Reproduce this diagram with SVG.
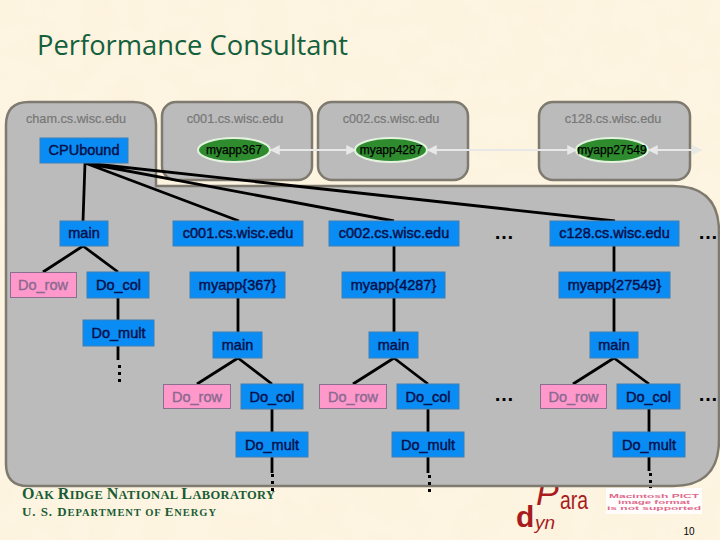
<svg xmlns="http://www.w3.org/2000/svg" width="720" height="540" viewBox="0 0 720 540">
<style>
.host{fill:#bbbbbb;stroke:#7f7a70;stroke-width:2.5}
.hl{font:12.7px "Liberation Sans",Arial,sans-serif;fill:#777;text-anchor:middle;stroke:#777;stroke-width:.2}
.n{fill:#0a8cf5;stroke:#3f80b5;stroke-width:1}
.p{fill:#ff99cc;stroke:#8b6f8f;stroke-width:1}
.t{font:14.5px "Liberation Sans",Arial,sans-serif;fill:#06104a;text-anchor:middle;stroke:#06104a;stroke-width:.45}
.tp{font:14.5px "Liberation Sans",Arial,sans-serif;fill:#8b6a90;text-anchor:middle;stroke:#8b6a90;stroke-width:.4}
.e{fill:#2e8b2e;stroke:#e3f3df;stroke-width:2}
.et{font:12px "Liberation Sans",Arial,sans-serif;fill:#000;text-anchor:middle;stroke:#000;stroke-width:.25}
.c{stroke:#000;stroke-width:2.8;fill:none;stroke-linecap:butt}
.d{stroke:#000;stroke-width:3;fill:none;stroke-dasharray:3 4}
.a{stroke:#e8e8e8;stroke-width:2;fill:none;marker-start:url(#ah);marker-end:url(#ah2)}
.dots{font:bold 20px "Liberation Sans",Arial,sans-serif;fill:#000;text-anchor:middle}
.ornl{font-family:"Liberation Serif","Times New Roman",serif;font-weight:bold;fill:#1a5c35}
.logo{font-family:"Liberation Sans",Arial,sans-serif;fill:#a81c20}
.pict{font:bold 6px "Liberation Sans",Arial,sans-serif;fill:#e0688c;text-anchor:middle}
</style>
<defs>
<filter id="paper" x="0" y="0" width="100%" height="100%">
<feTurbulence type="fractalNoise" baseFrequency="0.035" numOctaves="3" seed="4"/>
<feColorMatrix values="0 0 0 0 0.97  0 0 0 0 0.86  0 0 0 0 0.68  1.1 0 0 0 -0.3"/>
</filter>
<marker id="ah" viewBox="0 0 8 8" refX="1" refY="4" markerWidth="5" markerHeight="5" orient="auto"><path d="M8 0L0 4L8 8z" fill="#e8e8e8"/></marker>
<marker id="ah2" viewBox="0 0 8 8" refX="7" refY="4" markerWidth="5" markerHeight="5" orient="auto"><path d="M0 0L8 4L0 8z" fill="#e8e8e8"/></marker>
</defs>
<rect width="720" height="540" fill="#fdf5e2"/>
<rect width="720" height="540" filter="url(#paper)" opacity=".6"/>

<text x="37" y="55" font-family="'Open Sans','Noto Sans',sans-serif" font-size="27" fill="#14603c" textLength="311" lengthAdjust="spacingAndGlyphs">Performance Consultant</text>

<g id="logo">
<text class="logo" x="536" y="505" font-size="34" font-style="italic">P</text>
<text class="logo" x="560" y="509" font-size="26" textLength="28" lengthAdjust="spacingAndGlyphs">ara</text>
<text class="logo" x="516" y="527" font-size="30" font-weight="bold">d</text>
<text class="logo" x="535" y="529" font-size="19" font-style="italic">yn</text>
</g>

<g id="panel"><path class="host" d="M6 125Q6 102 29 102H133Q156 102 156 125V186H673Q719 186 719 232V440Q719 486 673 486H28Q6 486 6 464Z"/>
<text class="hl" x="76" y="123">cham.cs.wisc.edu</text></g>
<g id="host-c001"><rect class="host" x="162" y="102" width="150" height="78" rx="14"/><text class="hl" x="235" y="123">c001.cs.wisc.edu</text></g>
<g id="host-c002"><rect class="host" x="318" y="102" width="150" height="78" rx="14"/><text class="hl" x="391" y="123">c002.cs.wisc.edu</text></g>
<g id="host-c128"><rect class="host" x="539" y="102" width="151" height="78" rx="14"/><text class="hl" x="613" y="123">c128.cs.wisc.edu</text></g>

<g id="connectors">
<path class="a" d="M271 150H355"/>
<path class="a" d="M428 150H576"/>
<path class="a" d="M649 150H701"/>
<path class="c" d="M85 163L83 221M85 163L239 221M85 163L394 221M85 163L615 221"/>
<path class="c" d="M83 246L43 272M83 246L118 272M118 298V320M118 346V360"/>
<path class="d" d="M119.500 365V384"/>
<path class="c" d="M238 246V272M238 298V332M238 358L197 384M238 358L272 384M272 409V432M272 457V473"/>
<path class="d" d="M272.500 474V493"/>
<path class="c" d="M394 246V272M394 298V332M394 358L353 384M394 358L428 384M428 409V432M428 457V473"/>
<path class="d" d="M429.500 475V494"/>
<path class="c" d="M614 246V272M614 298V332M614 358L573 384M614 358L649 384M649 409V432M649 457V471"/>
<path class="d" d="M650.500 473V492"/>
</g>

<g id="cpubound"><rect class="n" x="40" y="138" width="88" height="25"/><text class="t" x="84" y="155">CPUbound</text></g>
<g id="app367"><ellipse class="e" cx="234" cy="150" rx="36" ry="12"/><text class="et" x="234" y="154">myapp367</text></g>
<g id="app4287"><ellipse class="e" cx="391" cy="150" rx="36" ry="12"/><text class="et" x="391" y="154">myapp4287</text></g>
<g id="app27549"><ellipse class="e" cx="612" cy="150" rx="36" ry="12"/><text class="et" x="612" y="154">myapp27549</text></g>

<g id="main0"><rect class="n" x="60" y="221" width="48" height="25"/><text class="t" x="84" y="238">main</text></g>
<g id="row0"><rect class="p" x="10.500" y="272.500" width="66" height="25"/><text class="tp" x="43" y="290">Do_row</text></g>
<g id="col0"><rect class="n" x="87" y="272" width="62" height="26"/><text class="t" x="118.500" y="290">Do_col</text></g>
<g id="mult0"><rect class="n" x="83" y="320" width="71" height="26"/><text class="t" x="118.500" y="338">Do_mult</text></g>

<g id="h1"><rect class="n" x="173" y="221" width="130" height="25"/><text class="t" x="238" y="238">c001.cs.wisc.edu</text></g>
<g id="m1"><rect class="n" x="190" y="272" width="95" height="26"/><text class="t" x="237.500" y="290">myapp{367}</text></g>
<g id="main1"><rect class="n" x="213" y="332" width="49" height="26"/><text class="t" x="237.500" y="350">main</text></g>
<g id="row1"><rect class="p" x="163.500" y="384.500" width="67" height="24"/><text class="tp" x="197" y="402">Do_row</text></g>
<g id="col1"><rect class="n" x="241" y="384" width="62" height="25"/><text class="t" x="272" y="402">Do_col</text></g>
<g id="mult1"><rect class="n" x="236" y="432" width="72" height="25"/><text class="t" x="272" y="450">Do_mult</text></g>

<g id="h2"><rect class="n" x="329" y="221" width="130" height="25"/><text class="t" x="394" y="238">c002.cs.wisc.edu</text></g>
<g id="m2"><rect class="n" x="342" y="272" width="103" height="26"/><text class="t" x="393.500" y="290">myapp{4287}</text></g>
<g id="main2"><rect class="n" x="369" y="332" width="49" height="26"/><text class="t" x="393.500" y="350">main</text></g>
<g id="row2"><rect class="p" x="319.500" y="384.500" width="67" height="24"/><text class="tp" x="353" y="402">Do_row</text></g>
<g id="col2"><rect class="n" x="397" y="384" width="62" height="25"/><text class="t" x="428" y="402">Do_col</text></g>
<g id="mult2"><rect class="n" x="392" y="432" width="72" height="25"/><text class="t" x="428" y="450">Do_mult</text></g>

<g id="h3"><rect class="n" x="550" y="221" width="129" height="25"/><text class="t" x="614.500" y="238">c128.cs.wisc.edu</text></g>
<g id="m3"><rect class="n" x="559" y="272" width="111" height="26"/><text class="t" x="614.500" y="290">myapp{27549}</text></g>
<g id="main3"><rect class="n" x="590" y="332" width="48" height="26"/><text class="t" x="614" y="350">main</text></g>
<g id="row3"><rect class="p" x="540.500" y="384.500" width="66" height="24"/><text class="tp" x="573.500" y="402">Do_row</text></g>
<g id="col3"><rect class="n" x="617" y="384" width="63" height="25"/><text class="t" x="648.500" y="402">Do_col</text></g>
<g id="mult3"><rect class="n" x="613" y="432" width="72" height="25"/><text class="t" x="649" y="450">Do_mult</text></g>

<text class="dots" x="504" y="239">…</text>
<text class="dots" x="708" y="239">…</text>
<text class="dots" x="504" y="401">…</text>
<text class="dots" x="708" y="401">…</text>

<text class="ornl" x="22" y="499" font-size="12.500" textLength="253" lengthAdjust="spacing"><tspan font-size="16">O</tspan>AK <tspan font-size="16">R</tspan>IDGE <tspan font-size="16">N</tspan>ATIONAL <tspan font-size="16">L</tspan>ABORATORY</text>
<text class="ornl" x="22" y="515.500" font-size="10.500" textLength="194" lengthAdjust="spacing"><tspan font-size="13">U. S. D</tspan>EPARTMENT OF <tspan font-size="13">E</tspan>NERGY</text>

<g id="pict"><rect x="606" y="488" width="96" height="26" fill="#fff" opacity=".9"/>
<text class="pict" x="654" y="498" textLength="90" lengthAdjust="spacingAndGlyphs">Macintosh PICT</text>
<text class="pict" x="654" y="504" textLength="72" lengthAdjust="spacingAndGlyphs">image format</text>
<text class="pict" x="654" y="510" textLength="94" lengthAdjust="spacingAndGlyphs">is not supported</text></g>
<text x="689" y="535" font-family="'Liberation Sans',Arial,sans-serif" font-size="10" fill="#000" text-anchor="middle">10</text>
</svg>
